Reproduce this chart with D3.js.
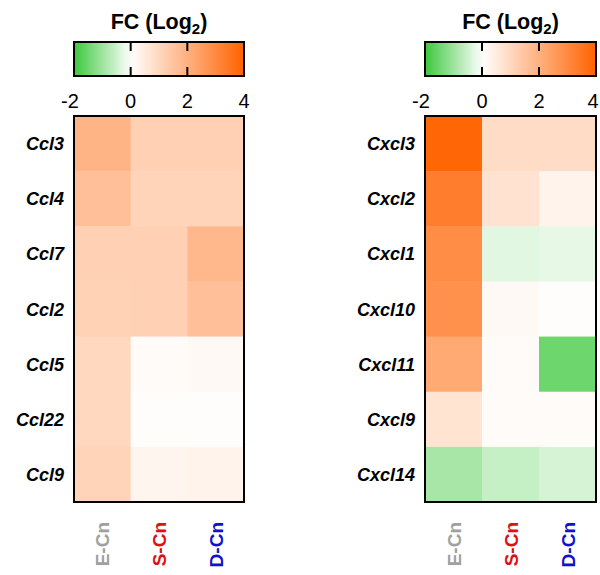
<!DOCTYPE html>
<html><head><meta charset="utf-8">
<script src="https://cdn.jsdelivr.net/npm/d3@7"></script>
<style>body{margin:0;background:#fff}svg{display:block}</style>
</head><body>
<script>
const columns = ["E-Cn","S-Cn","D-Cn"];
const columnColors = ["#a0a0a0","#dd1111","#1111cc"];
const cclGenes = ["Ccl3","Ccl4","Ccl7","Ccl2","Ccl5","Ccl22","Ccl9"];
const cclValues = [
  [1.9,1.2,1.2],
  [1.6,1.1,1.1],
  [1.2,1.2,1.8],
  [1.15,1.2,1.6],
  [1.0,0.1,0.15],
  [1.0,0.05,0.05],
  [1.1,0.25,0.3]
];
const cxclGenes = ["Cxcl3","Cxcl2","Cxcl1","Cxcl10","Cxcl11","Cxcl9","Cxcl14"];
const cxclValues = [
  [3.9,0.9,0.9],
  [3.3,0.75,0.3],
  [2.9,-0.3,-0.25],
  [2.8,0.15,0.05],
  [2.2,0.1,-1.5],
  [0.7,0.1,0.1],
  [-0.9,-0.6,-0.42]
];
const legendTicks = [-2,0,2,4];

const W=600,H=575;
const FONT="Liberation Sans, Arial, sans-serif";
const svg=d3.select("body").append("svg").attr("width",W).attr("height",H);
const color=d3.scaleLinear().domain([-2,0,4]).range(["#3cc83c","#ffffff","#ff6200"]).clamp(true);

function panel(x0,x1,genes,values,labelX){
  const g=svg.append("g");
  const lx=d3.scaleLinear().domain([-2,4]).range([x0,x1]);
  const gid="grad"+x0;
  const grad=svg.append("defs").append("linearGradient").attr("id",gid);
  d3.range(0,1.0001,0.05).forEach(t=>{
    grad.append("stop").attr("offset",t).attr("stop-color",color(-2+6*t));
  });
  g.append("text").attr("x",(x0+x1)/2).attr("y",29).attr("text-anchor","middle")
   .attr("font-family",FONT).attr("font-weight","bold").attr("font-size",21.5)
   .html('FC (Log<tspan font-size="15" dy="5">2</tspan><tspan dy="-5">)</tspan>');
  const ly0=42,ly1=76;
  g.append("rect").attr("x",x0).attr("y",ly0).attr("width",x1-x0).attr("height",ly1-ly0)
   .attr("fill",`url(#${gid})`).attr("stroke","#000").attr("stroke-width",2);
  [0,2].forEach(t=>{
    g.append("line").attr("x1",lx(t)).attr("x2",lx(t)).attr("y1",ly0).attr("y2",ly0+9).attr("stroke","#000").attr("stroke-width",2);
    g.append("line").attr("x1",lx(t)).attr("x2",lx(t)).attr("y1",ly1-9).attr("y2",ly1).attr("stroke","#000").attr("stroke-width",2);
  });
  legendTicks.forEach(t=>{
    const tx=Math.min(lx(t)+(t<0?-4:0),W-7);
    g.append("text").attr("x",tx).attr("y",108).attr("text-anchor","middle")
     .attr("font-family",FONT).attr("font-size",20).text(t);
  });
  const hy0=116,hy1=502;
  const x=d3.scaleBand().domain(columns).range([x0,x1]);
  const y=d3.scaleBand().domain(genes).range([hy0,hy1]);
  genes.forEach((gene,i)=>{
    columns.forEach((c,j)=>{
      g.append("rect").attr("x",x(c)).attr("y",y(gene)).attr("width",x.bandwidth()+0.5).attr("height",y.bandwidth()+0.5)
       .attr("fill",color(values[i][j]));
    });
    g.append("text").attr("x",labelX).attr("y",y(gene)+y.bandwidth()/2+6.5).attr("text-anchor","end")
     .attr("font-family",FONT).attr("font-weight","bold").attr("font-style","italic")
     .attr("font-size",18).text(gene);
  });
  g.append("rect").attr("x",x0).attr("y",hy0).attr("width",x1-x0).attr("height",hy1-hy0)
   .attr("fill","none").attr("stroke","#000").attr("stroke-width",2);
  columns.forEach((c,j)=>{
    const cx=x(c)+x.bandwidth()/2;
    g.append("text").attr("transform",`translate(${cx+7},${522}) rotate(-90)`).attr("text-anchor","end")
     .attr("font-family",FONT).attr("font-weight","bold").attr("font-size",19)
     .attr("fill",columnColors[j]).text(c);
  });
}
panel(74,244,cclGenes,cclValues,64);
panel(425,596,cxclGenes,cxclValues,415);
</script>
</body></html>
